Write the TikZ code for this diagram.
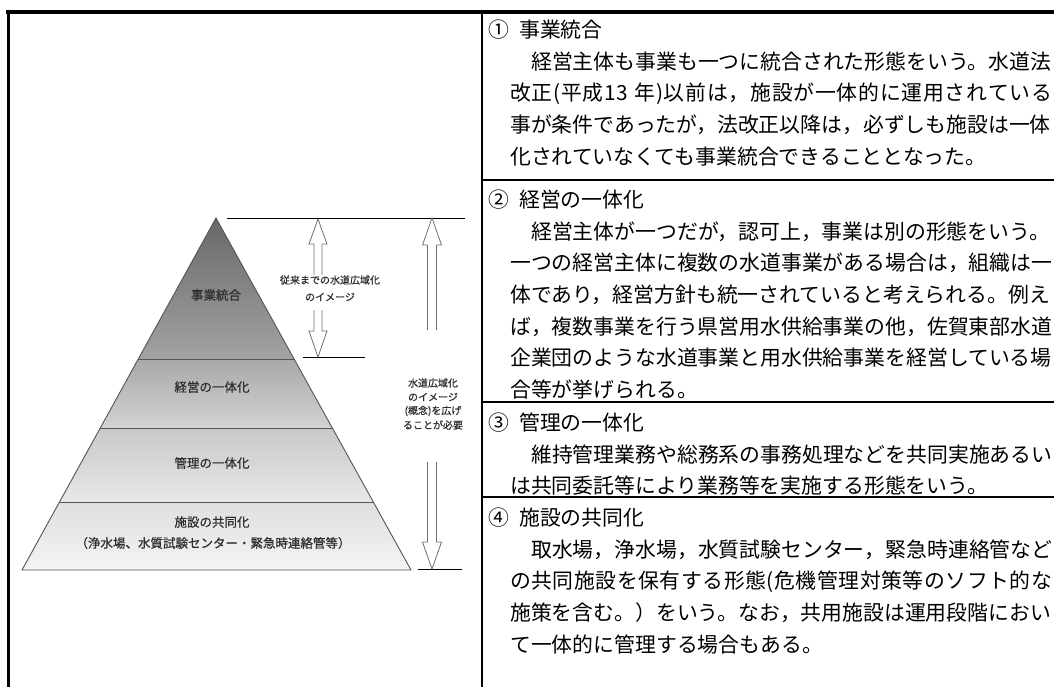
\documentclass[tikz,border=0pt]{standalone}
\usepackage{fontspec}
\newfontfamily\jp{Noto Sans CJK JP}
\newfontfamily\jpm[FakeBold=0.6]{Noto Sans CJK JP}
\definecolor{labgray}{HTML}{2E2E2E}
\definecolor{pyrline}{HTML}{555555}
\definecolor{arrline}{HTML}{707070}
\definecolor{tAa}{HTML}{686868}\definecolor{tAb}{HTML}{A3A3A3}
\definecolor{tBa}{HTML}{A8A8A8}\definecolor{tBb}{HTML}{D3D3D3}
\definecolor{tCa}{HTML}{C8C8C8}\definecolor{tCb}{HTML}{E8E8E8}
\definecolor{tDa}{HTML}{DFDFDF}\definecolor{tDb}{HTML}{F4F4F4}
\def\jfill#1{\hbox to 542pt{\jfillA#1\relax\unskip}}
\def\jfillA#1{\ifx#1\relax\else#1\hfil\expandafter\jfillA\fi}
\begin{document}
\begin{tikzpicture}[x=1pt,y=-1pt,
  body/.style={anchor=west, inner sep=0pt, font=\jp\fontsize{20.85pt}{20.85pt}\selectfont, text height=18.3pt, text depth=2.5pt},
  lab/.style={inner sep=0pt, font=\jpm\fontsize{12.5pt}{12.5pt}\selectfont, text=labgray},
  ann/.style={inner sep=0pt, font=\jpm\fontsize{10pt}{10pt}\selectfont, text=labgray},
  hollow/.style={draw=arrline, fill=white, line width=0.8pt},
  pyr/.style={draw=pyrline, line width=0.9pt},
  refline/.style={draw=black, line width=0.8pt},
  frame/.style={draw=black, line width=3.2pt},
  sep/.style={draw=black, line width=2pt}]
\useasboundingbox (0,0) rectangle (1054,687);
\fill[white] (0,0) rectangle (1054,687);
% pyramid coordinates
\coordinate (apex) at (216,218);
\coordinate (lA) at (138.3,359); \coordinate (rA) at (294.1,359);
\coordinate (lB) at (100.3,428); \coordinate (rB) at (332.3,428);
\coordinate (lC) at (59.5,502);  \coordinate (rC) at (373.3,502);
\coordinate (lD) at (22,570);    \coordinate (rD) at (411,570);
\shade[top color=tAa, bottom color=tAb] (apex) -- (lA) -- (rA) -- cycle;
\shade[top color=tBa, bottom color=tBb] (lA) -- (lB) -- (rB) -- (rA) -- cycle;
\shade[top color=tCa, bottom color=tCb] (lB) -- (lC) -- (rC) -- (rB) -- cycle;
\shade[top color=tDa, bottom color=tDb] (lC) -- (lD) -- (rD) -- (rC) -- cycle;
\draw[pyr] (apex) -- (lD) -- (rD) -- cycle;
\draw[pyr] (lA) -- (rA);
\draw[pyr] (lB) -- (rB);
\draw[pyr] (lC) -- (rC);
% tier labels
\node[lab] (t1) at (216,295) {事業統合};
\node[lab] (t2) at (212,387) {経営の一体化};
\node[lab] (t3) at (212,463) {管理の一体化};
\node[lab] (t4) at (212,522) {施設の共同化};
\node[lab] (t4b) at (213,543) {（浄水場、水質試験センター・緊急時連絡管等）};
% reference lines
\coordinate (topA) at (227,218); \coordinate (topB) at (465,218);
\coordinate (midA) at (303,357); \coordinate (midB) at (365,357);
\coordinate (botA) at (418,569); \coordinate (botB) at (462,569);
\draw[refline] (topA) -- (topB);
\draw[refline] (midA) -- (midB);
\draw[refline] (botA) -- (botB);
% small hollow arrows
\draw[hollow] (314,275) -- (314,244) -- (309,244) -- (318,219) -- (327,244) -- (322,244) -- (322,275);
\draw[hollow] (314,310) -- (314,331) -- (309,331) -- (318,357) -- (327,331) -- (322,331) -- (322,310);
% big hollow arrows
\draw[hollow] (427.5,330) -- (427.5,245) -- (422.5,245) -- (432,218) -- (441.5,245) -- (436.5,245) -- (436.5,330);
\draw[hollow] (427.5,462) -- (427.5,542) -- (422.5,542) -- (432,569) -- (441.5,542) -- (436.5,542) -- (436.5,462);
% annotations
\node[ann] (a1) at (330,280) {従来までの水道広域化};
\node[ann] (a2) at (330,297) {のイメージ};
\node[ann] (b1) at (433,383) {水道広域化};
\node[ann] (b2) at (433,397) {のイメージ};
\node[ann] (b3) at (433,411) {(概念)を広げ};
\node[ann] (b4) at (433,425) {ることが必要};
% frame
\draw[frame] (6,12) -- (1054,12);
\draw[frame] (8.5,12) -- (8.5,687);
\draw[sep] (482,12) -- (482,687);
\draw[sep] (482,180) -- (1054,180);
\draw[sep] (482,402) -- (1054,402);
\draw[sep] (482,497) -- (1054,497);
% section 1
\node[body] (n1) at (488,30) {①};
\node[body] (h1) at (519,30) {事業統合};
\node[body] (s1a) at (531,62) {経営主体も事業も一つに統合された形態をいう。水道法};
\node[body] (s1b) at (510,93) {\jfill{改正(平成13\ 年)以前は，施設が一体的に運用されている}};
\node[body] (s1c) at (510,125) {事が条件であったが，法改正以降は，必ずしも施設は一体};
\node[body] (s1d) at (510,157) {化されていなくても事業統合できることとなった。};
% section 2
\node[body] (n2) at (488,200) {②};
\node[body] (h2) at (519,200) {経営の一体化};
\node[body] (s2a) at (531,232) {経営主体が一つだが，認可上，事業は別の形態をいう。};
\node[body] (s2b) at (510,263) {一つの経営主体に複数の水道事業がある場合は，組織は一};
\node[body] (s2c) at (510,295) {体であり，経営方針も統一されていると考えられる。例え};
\node[body] (s2d) at (510,327) {ば，複数事業を行う県営用水供給事業の他，佐賀東部水道};
\node[body] (s2e) at (510,358) {企業団のような水道事業と用水供給事業を経営している場};
\node[body] (s2f) at (510,390) {合等が挙げられる。};
% section 3
\node[body] (n3) at (488,423) {③};
\node[body] (h3) at (519,423) {管理の一体化};
\node[body] (s3a) at (531,455) {維持管理業務や総務系の事務処理などを共同実施あるい};
\node[body] (s3b) at (510,486) {は共同委託等により業務等を実施する形態をいう。};
% section 4
\node[body] (n4) at (488,518) {④};
\node[body] (h4) at (519,518) {施設の共同化};
\node[body] (s4a) at (531,550) {取水場，浄水場，水質試験センター，緊急時連絡管など};
\node[body] (s4b) at (510,581) {\jfill{の共同施設を保有する形態(危機管理対策等のソフト的な}};
\node[body] (s4c) at (510,613) {施策を含む。）をいう。なお，共用施設は運用段階におい};
\node[body] (s4d) at (510,645) {て一体的に管理する場合もある。};
\end{tikzpicture}
\end{document}
